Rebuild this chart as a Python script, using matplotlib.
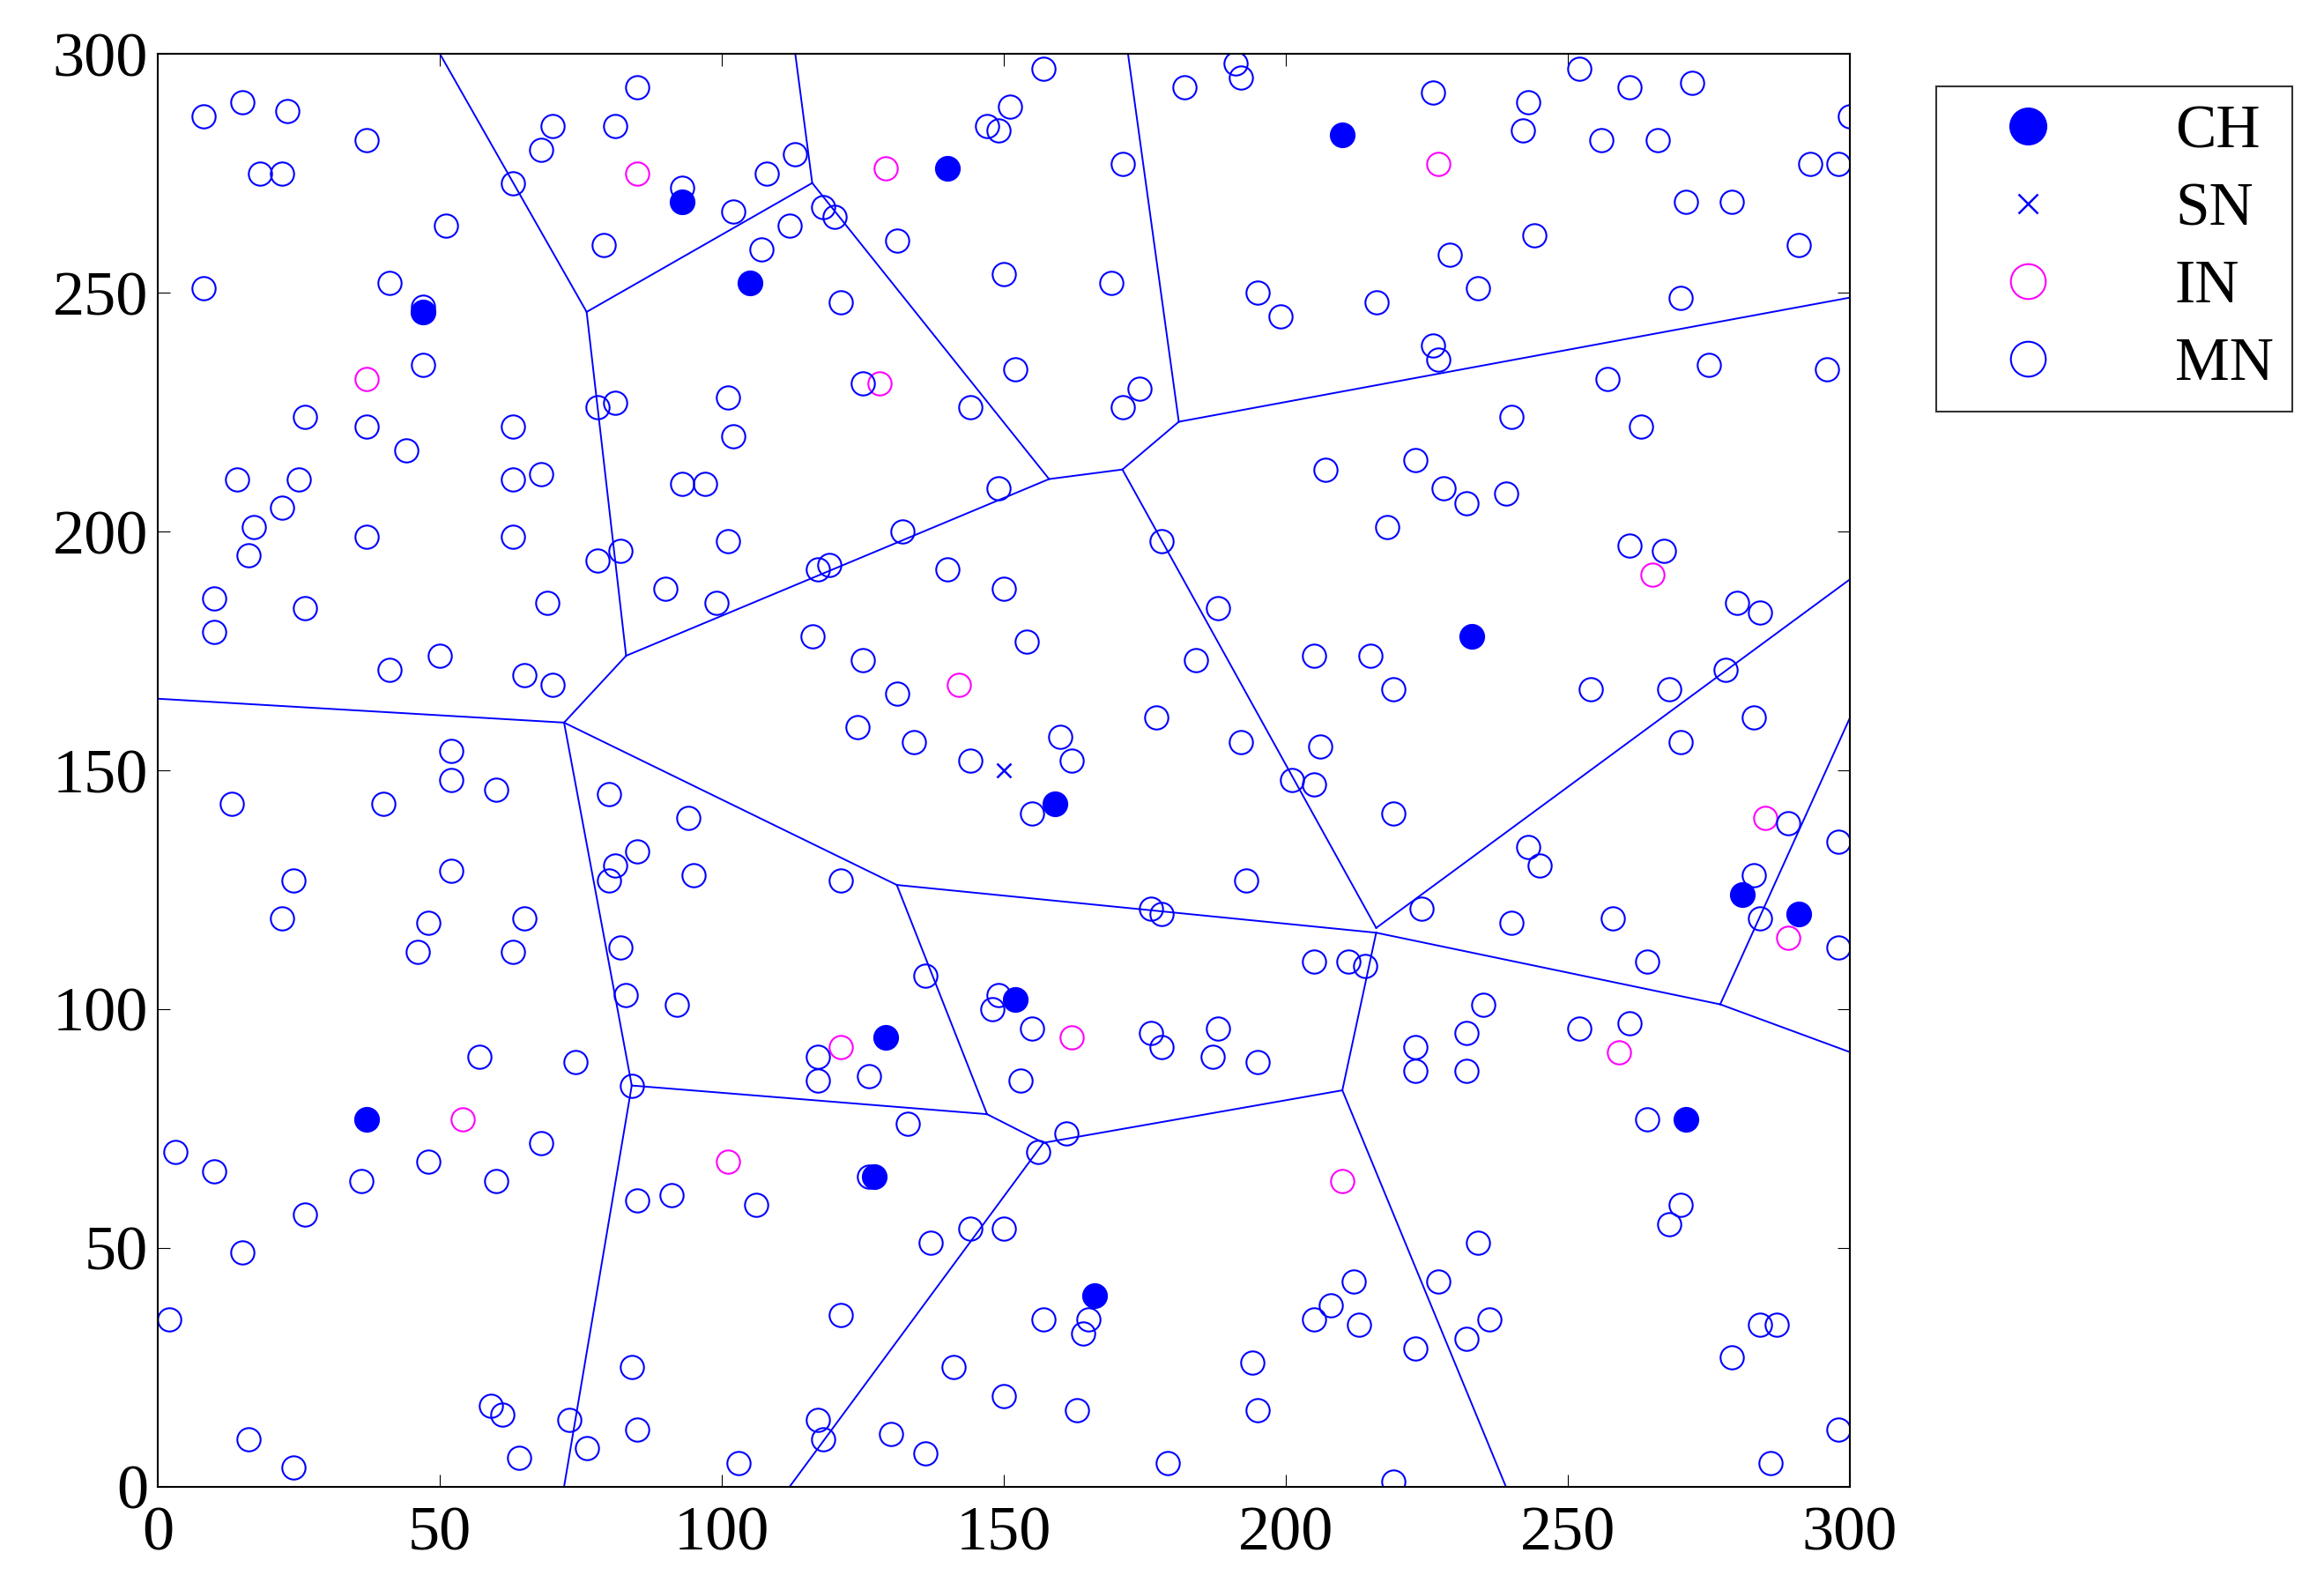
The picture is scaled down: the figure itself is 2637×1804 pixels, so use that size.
import matplotlib
matplotlib.use("Agg")
import matplotlib.pyplot as plt

plt.rcParams['font.family'] = ['Liberation Serif', 'DejaVu Serif']

ch_x = [47, 93, 105, 140, 210, 233, 159, 152, 129, 127, 166, 37, 271, 281, 291]
ch_y = [246, 269, 252, 276, 283, 178, 143, 102, 94, 65, 40, 77, 77, 124, 120]
sn_x = [150]
sn_y = [150]
in_x = [85, 129, 227, 37, 128, 142, 265, 285, 289, 259, 162, 121, 101, 54, 210]
in_y = [275, 276, 277, 232, 231, 168, 191, 140, 115, 91, 94, 92, 68, 77, 64]
mn = [(8,287),(15,290),(23,288),(18,275),(22,275),(37,282),(8,251),(41,252),(47,247),(51,264),(47,235),(37,222),(26,224),(14,211),(22,205),(25,211),(17,201),(16,195),(37,199),(44,217),(10,186),(10,179),(26,184),(41,171),(50,174),(63,273),(68,280),(70,285),(79,260),(81,285),(85,293),(93,272),(102,267),(107,259),(108,275),(112,264),(113,279),(118,268),(120,266),(121,248),(63,222),(63,211),(68,212),(63,199),(69,185),(65,170),(70,168),(78,226),(81,227),(78,194),(82,196),(93,210),(97,210),(101,228),(102,220),(101,198),(99,185),(90,188),(117,192),(119,193),(116,178),(125,231),(125,173),(132,200),(140,192),(144,226),(149,209),(150,188),(154,177),(147,285),(149,284),(151,289),(150,254),(152,234),(157,297),(131,261),(169,252),(171,277),(171,226),(174,230),(182,293),(191,298),(192,295),(195,250),(199,245),(216,248),(226,292),(229,258),(226,239),(227,236),(234,251),(223,215),(228,209),(232,206),(239,208),(218,201),(207,213),(240,224),(242,284),(243,290),(244,262),(252,297),(256,282),(261,293),(266,282),(257,232),(263,222),(271,269),(272,294),(279,269),(275,235),(270,249),(291,260),(293,277),(298,277),(300,287),(296,234),(261,197),(267,196),(280,185),(284,183),(278,171),(268,167),(270,156),(283,161),(254,167),(243,134),(245,130),(215,174),(219,167),(205,174),(206,155),(205,147),(201,148),(219,141),(193,127),(188,184),(192,156),(184,173),(178,198),(177,161),(160,157),(162,152),(155,141),(144,152),(134,156),(131,166),(124,159),(121,127),(176,121),(178,120),(224,121),(240,118),(258,119),(283,128),(284,119),(289,139),(298,135),(298,113),(205,110),(211,110),(214,109),(136,107),(148,100),(149,103),(155,96),(153,85),(126,86),(117,90),(117,85),(176,95),(178,92),(187,90),(188,96),(195,89),(223,92),(223,87),(232,95),(232,87),(235,101),(252,96),(261,97),(264,110),(133,76),(161,74),(156,70),(126,65),(137,51),(144,54),(150,54),(157,35),(165,35),(164,32),(163,16),(141,25),(150,19),(130,11),(136,7),(121,36),(117,14),(118,10),(103,5),(106,59),(91,61),(85,60),(84,84),(84,25),(85,12),(73,14),(76,8),(74,89),(68,72),(60,64),(57,90),(48,68),(48,118),(46,112),(63,112),(65,119),(52,129),(52,148),(52,154),(60,146),(40,143),(13,143),(24,127),(22,119),(3,70),(10,66),(2,35),(15,49),(16,10),(24,4),(26,57),(36,64),(59,17),(61,15),(64,6),(85,133),(81,130),(80,127),(82,113),(83,103),(80,145),(94,140),(95,128),(92,101),(179,5),(194,26),(195,16),(205,35),(208,38),(212,43),(213,34),(219,1),(223,29),(227,43),(232,31),(234,51),(236,35),(264,77),(268,55),(270,59),(279,27),(284,34),(286,5),(287,34),(298,12)]
mn_x = [p[0] for p in mn]
mn_y = [p[1] for p in mn]

edges = [((50,300),(76,246)),((76,246),(116,273)),((116,273),(113,300)),((76,246),(83,174)),
         ((83,174),(72,160)),((0,165),(72,160)),((72,160),(84,84)),((84,84),(72,0)),((84,84),(147,78)),
         ((83,174),(158,211)),((116,273),(158,211)),((158,211),(171,213)),((171,213),(181,223)),
         ((181,223),(172,300)),((181,223),(300,249)),((171,213),(216,117)),((216,117),(300,190)),
         ((72,160),(131,126)),((131,126),(147,78)),((131,126),(216,116)),((216,116),(277,101)),
         ((277,101),(300,91)),((277,101),(300,161)),((216,116),(210,83)),((210,83),(157,72)),
         ((157,72),(147,78)),((157,72),(112,0)),((210,83),(239,0))]

fig = plt.figure(figsize=(26.37, 18.04), dpi=100)
ax = fig.add_axes([0.068, 0.065, 0.728, 0.901])
for (a, b) in edges:
    ax.plot([a[0], b[0]], [a[1], b[1]], color='blue', lw=1.4)
ax.plot(ch_x, ch_y, 'o', color='blue', ms=20, label='CH', ls='none')
ax.plot(sn_x, sn_y, 'x', color='blue', ms=11, mew=1.8, label='SN', ls='none')
ax.plot(in_x, in_y, 'o', mfc='none', mec='#ff00ff', ms=19, mew=1.5, label='IN', ls='none')
ax.plot(mn_x, mn_y, 'o', mfc='none', mec='blue', ms=19, mew=1.5, label='MN', ls='none')
ax.set_xlim(0, 300)
ax.set_ylim(0, 300)
ax.set_xticks(range(0, 301, 50))
ax.set_yticks(range(0, 301, 50))
ax.tick_params(labelsize=52, direction='in', length=10, top=True, right=True, pad=8)
ax.tick_params(axis='x', pad=16)
for s in ax.spines.values():
    s.set_linewidth(1.5)
leg = fig.legend(loc='upper left', bbox_to_anchor=(0.82, 0.965), fontsize=50,
                 fancybox=False, edgecolor='black', borderpad=0.3, labelspacing=0.35,
                 handletextpad=1.2, handlelength=2.4, markerscale=1.5)
leg.get_frame().set_linewidth(1.5)
fig.savefig('out.png', dpi=100)
